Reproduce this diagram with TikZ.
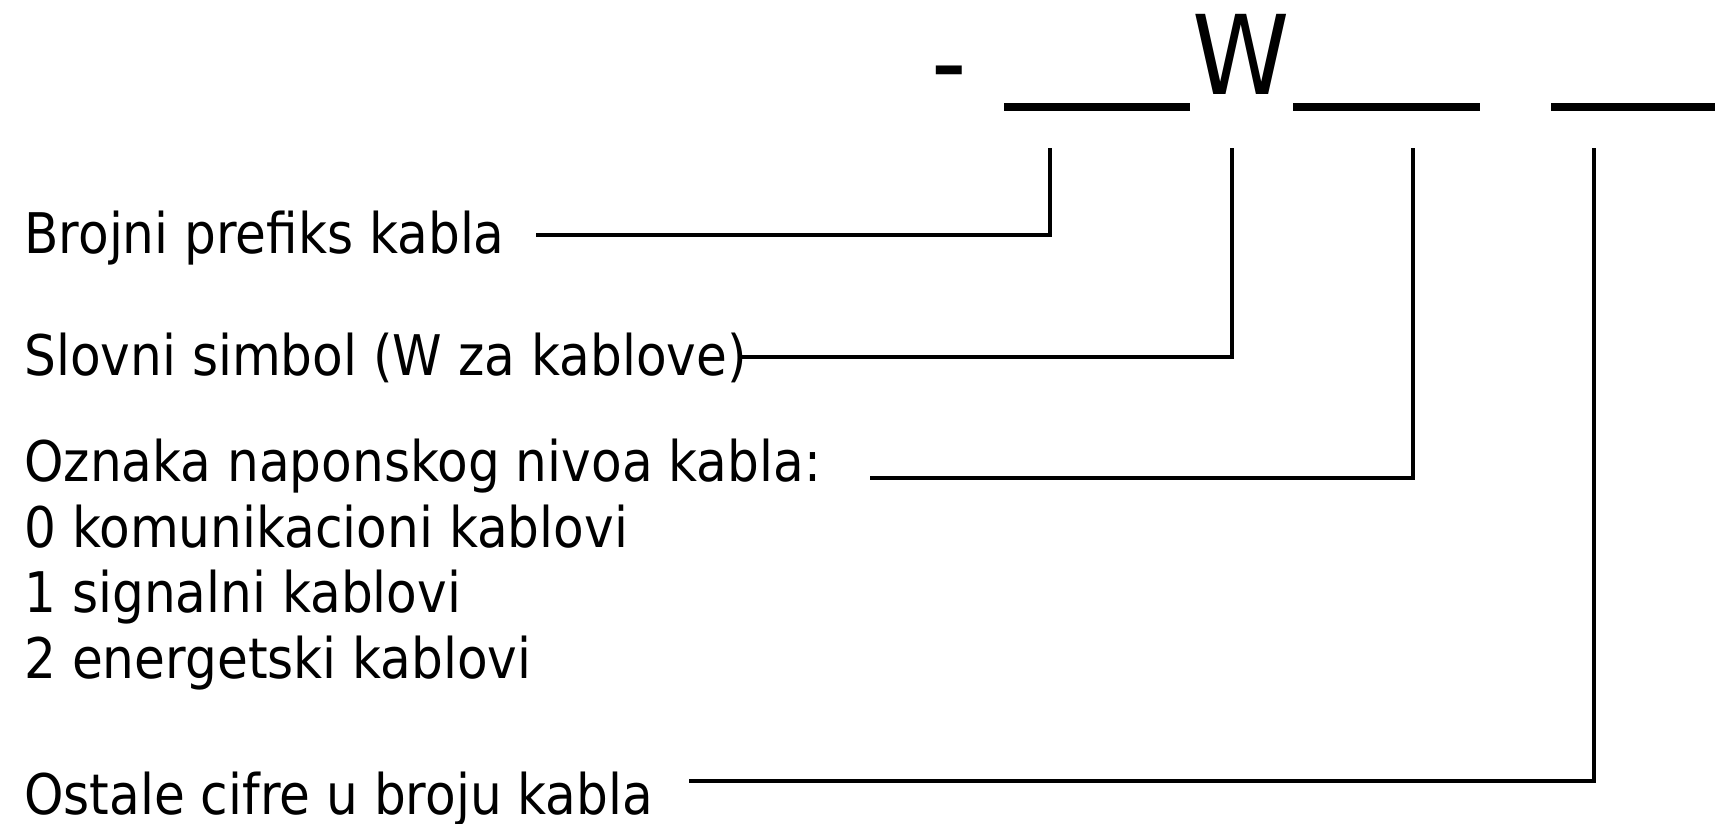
\documentclass[tikz,border=0pt]{standalone}
\usepackage{fontspec}
\setmainfont[FakeStretch=0.895]{DejaVu Sans}
\begin{document}
\begin{tikzpicture}[x=0.5pt,y=-0.5pt,
  lbl/.style={anchor=base west, inner sep=0pt, font=\fontsize{28}{33}\selectfont},
  big/.style={inner sep=0pt, font=\fontsize{55}{60}\selectfont},
  conn/.style={line width=1.6pt},
  uline/.style={line width=3.6pt}]
\useasboundingbox (0,0) rectangle (1715,824);
% header code
\node[big, anchor=base] (dash) at (949,101) {-};
\node[big, anchor=base] (w) at (1241,95) {W};
\draw[uline] (1004,107) -- (1190,107);
\draw[uline] (1293,107) -- (1480,107);
\draw[uline] (1551,107) -- (1715,107);
% labels
\node[lbl] (l1) at (24,254) {Brojni prefiks kabla};
\node[lbl] (l2) at (24,375) {Slovni simbol (W za kablove)};
\node[lbl] (l3) at (24,481) {Oznaka naponskog nivoa kabla:};
\node[lbl] (l3a) at (24,547) {0 komunikacioni kablovi};
\node[lbl] (l3b) at (24,612) {1 signalni kablovi};
\node[lbl] (l3c) at (24,678) {2 energetski kablovi};
\node[lbl] (l4) at (24,814) {Ostale cifre u broju kabla};
% connector ends
\coordinate (s1) at (536,235);
\coordinate (s2) at (739,357);
\coordinate (s3) at (870,478);
\coordinate (s4) at (689,781);
\coordinate (t1) at (1050,148);
\coordinate (t2) at (1232,148);
\coordinate (t3) at (1413,148);
\coordinate (t4) at (1594,148);
\draw[conn] (s1) -| (t1);
\draw[conn] (s2) -| (t2);
\draw[conn] (s3) -| (t3);
\draw[conn] (s4) -| (t4);
\end{tikzpicture}
\end{document}
